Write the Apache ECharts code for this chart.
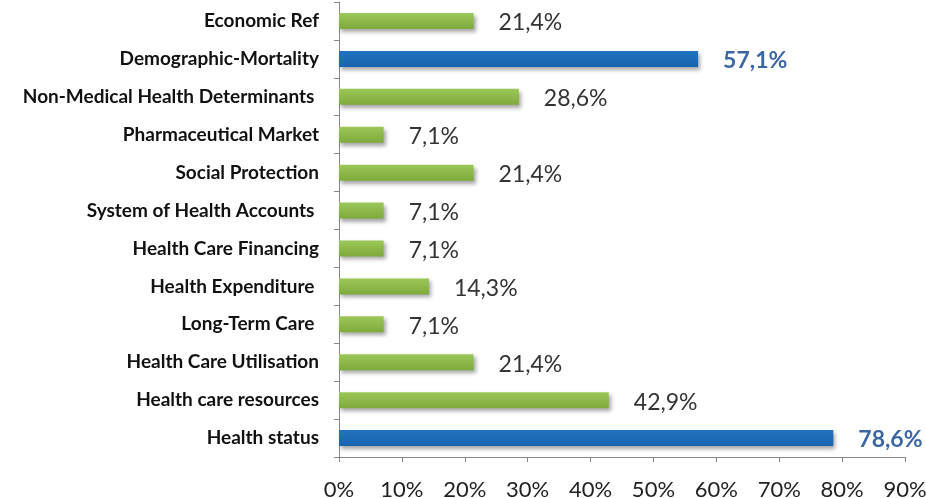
<!DOCTYPE html>
<html><head><meta charset="utf-8">
<script src="https://cdn.jsdelivr.net/npm/echarts@6/dist/echarts.min.js"></script>
<style>html,body{margin:0;padding:0;background:#fff}#c{width:926px;height:498px}</style>
</head><body><div id="c"></div>
<script>
// bottom to top
var categories = ['Health status','Health care resources','Health Care Utilisation','Long-Term Care ','Health Expenditure ','Health Care Financing','System of Health Accounts ','Social Protection','Pharmaceutical Market','Non-Medical Health Determinants ','Demographic-Mortality','Economic Ref'];
var values = [78.6, 42.9, 21.4, 7.1, 14.3, 7.1, 7.1, 21.4, 7.1, 28.6, 57.1, 21.4];
var highlighted = [true,false,false,false,false,false,false,false,false,false,true,false];
var xTicks = [0,10,20,30,40,50,60,70,80,90];

var FONT = 'Lato, "Liberation Sans", sans-serif';
var green = {type:'linear',x:0,y:0,x2:0,y2:1,colorStops:[{offset:0,color:'#9cc85a'},{offset:1,color:'#7eaa3c'}]};
var blue = {type:'linear',x:0,y:0,x2:0,y2:1,colorStops:[{offset:0,color:'#2273c0'},{offset:1,color:'#1763ae'}]};

var data = values.map(function(v,i){
  var hi = highlighted[i];
  return {
    value: v,
    itemStyle: {color: hi ? blue : green},
    label: hi ? {color:'#3b68a3', fontWeight:'bold'} : {color:'#333', fontWeight:'normal'}
  };
});

var chart = echarts.init(document.getElementById('c'), null, {renderer:'canvas'});
chart.setOption({
  animation:false,
  grid:{left:339, right:21, top:2, bottom:41, containLabel:false, outerBoundsMode:'none'},
  xAxis:{
    type:'value', min:0, max:90, interval:10,
    axisLine:{show:true, lineStyle:{color:'#888', width:1}},
    axisTick:{show:true, length:5, lineStyle:{color:'#888'}},
    splitLine:{show:false},
    axisLabel:{formatter:function(v){return v+'%';}, fontFamily:FONT, fontSize:22, color:'#222', margin:22,
      customValues: xTicks}
  },
  yAxis:{
    type:'category', data:categories,
    axisLine:{show:true, lineStyle:{color:'#888', width:1}},
    axisTick:{show:true, length:5, lineStyle:{color:'#888'}},
    axisLabel:{fontFamily:FONT, fontSize:19, fontWeight:'bold', color:'#111', margin:20}
  },
  series:[{
    type:'bar', data:data, barWidth:16,
    itemStyle:{shadowColor:'rgba(0,0,0,0.35)', shadowBlur:4, shadowOffsetX:2, shadowOffsetY:3},
    label:{show:true, position:'right', distance:25, offset:[0,2], fontFamily:FONT, fontSize:23,
      formatter:function(p){return p.value.toFixed(1).replace('.',',')+'%';}}
  }]
});
</script></body></html>
